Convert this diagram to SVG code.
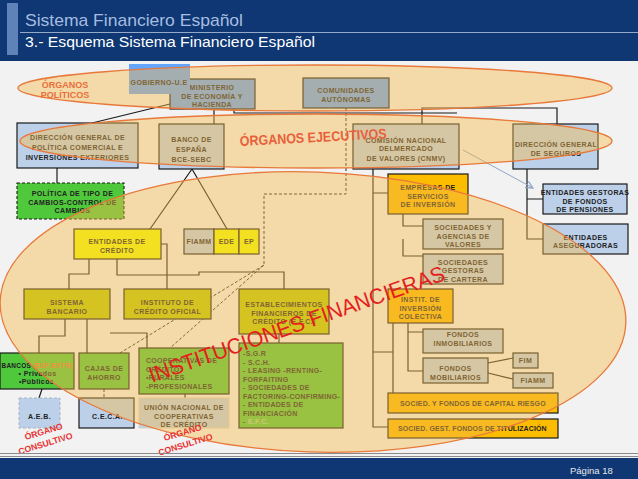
<svg xmlns="http://www.w3.org/2000/svg" width="638" height="479" viewBox="0 0 638 479">
<defs>
<style>
.t{font-family:"Liberation Sans",Arial,sans-serif;font-weight:bold;font-size:7px;fill:#222;text-anchor:middle;letter-spacing:0.4px}
.tl{font-family:"Liberation Sans",Arial,sans-serif;font-weight:bold;font-size:7px;fill:#222;letter-spacing:0.3px}
.bx{stroke:#1a1a1a;stroke-width:1.2}
.blue{fill:#bcd0ea}
.gblue{fill:#64a6ff}
.yel{fill:#f0ff00}
.oli{fill:#bccc00}
.grn{fill:#50c83c}
.gold{fill:#fcbc00}
.ln{stroke:#1a1a1a;stroke-width:1.2;fill:none}
.dash{stroke:#2a2a2a;stroke-width:1;fill:none;stroke-dasharray:3 2}
.ov{fill:#f5b94b;fill-opacity:0.44;stroke:#e8793a;stroke-width:1.3}
.lab{font-family:"Liberation Sans",Arial,sans-serif;font-weight:bold}
</style>
<marker id="arr" viewBox="0 0 10 10" refX="9" refY="5" markerWidth="9" markerHeight="9" orient="auto" markerUnits="userSpaceOnUse">
<path d="M1,1 L9,5 L1,9" fill="none" stroke="#8ea6c6" stroke-width="1.4"/>
</marker>
</defs>

<!-- background -->
<rect x="0" y="0" width="638" height="479" fill="#f2f2f2"/>

<!-- header -->
<g id="header">
<rect x="0" y="0" width="638" height="61" fill="#0e3774"/>
<rect x="7" y="3" width="11" height="52" fill="#5f82b8"/>
<line x1="20" y1="32.5" x2="638" y2="32.5" stroke="#b8c8e0" stroke-width="0.8"/>
<text x="25" y="26" font-family="Liberation Sans, Arial, sans-serif" font-size="17" fill="#a6bde0" textLength="218" lengthAdjust="spacingAndGlyphs">Sistema Financiero Español</text>
<text x="25" y="47" font-family="Liberation Sans, Arial, sans-serif" font-size="15.5" fill="#ffffff" textLength="290" lengthAdjust="spacingAndGlyphs">3.- Esquema Sistema Financiero Español</text>
</g>

<!-- connectors -->
<g id="connectors">
<path class="ln" d="M92,123 L170,104"/>
<path class="ln" d="M214,109 V124"/>
<path class="ln" d="M234,109 V113 H457"/>
<path class="ln" d="M422,124 V108 H557 V124"/>
<path class="ln" d="M373,169 V427 H388 M373,193 H388 M373,352 H393 M393,323 V393"/>
<path class="ln" d="M403,214 V226 H423 M403,239 V256 H423"/>
<path class="ln" d="M408,323 V371 H423 M408,332 H423"/>
<path class="ln" d="M488,363 L513,358 M488,373 L513,379"/>
<path class="ln" d="M527,169 V239 H543 M527,199 H543"/>
<path d="M463,150 L533,188" stroke="#8ea6c6" stroke-width="1" fill="none" marker-end="url(#arr)"/>
<path class="dash" d="M346,108 V194 H264 V265 L120,353 M264,265 L170,348"/>
<path class="ln" d="M150,229 L192,169 L227,229"/>
<path class="ln" d="M57,168 V183"/>
<path class="ln" d="M89,259 V274 H69 V289"/>
<path class="ln" d="M117,259 V275 H199 V272 H284 V289"/>
<path class="ln" d="M161,244 H167 V289"/>
<path class="ln" d="M65,319 V336 H39 V353"/>
<path class="ln" d="M87,319 V353"/>
<path class="ln" d="M110,333 H147 V348"/>
<path class="ln" d="M42,389 L39,398"/>
<path class="ln" d="M279,334 V343"/>
<path class="ln" d="M185,394 V398"/>
<path class="dash" d="M104,389 V405 H95"/>
</g>

<!-- nodes -->
<g id="ministerio">
<rect class="bx gblue" x="170" y="79" width="85" height="30"/>
<text class="t" x="212" y="89.5">MINISTERIO</text>
<text class="t" x="212" y="99">DE ECONOMÍA Y</text>
<text class="t" x="212" y="107">HACIENDA</text>
</g>
<g id="gobierno">
<rect class="gblue" x="129" y="64" width="61" height="30"/>
<text class="t" x="159" y="84.5" font-size="6.5">GOBIERNO-U.E</text>
</g>
<g id="comunidades">
<rect class="bx gblue" x="303" y="78" width="86" height="30"/>
<text class="t" x="346" y="92.5">COMUNIDADES</text>
<text class="t" x="346" y="101.5">AUTÓNOMAS</text>
</g>
<g id="dg-politica">
<rect class="bx blue" x="17" y="123" width="121" height="45"/>
<text class="t" x="77.5" y="139.5">DIRECCIÓN GENERAL DE</text>
<text class="t" x="77.5" y="149.5">POLÍTICA COMERCIAL E</text>
<text class="t" x="77.5" y="159.5">INVERSIONES EXTERIORES</text>
</g>
<g id="banco-espana">
<rect class="bx blue" x="159" y="124" width="65" height="45"/>
<text class="t" x="191.5" y="142" font-size="8.5" fill="#333">BANCO DE</text>
<text class="t" x="191.5" y="152" font-size="8.5" fill="#333">ESPAÑA</text>
<text class="t" x="191.5" y="162" font-size="8.5" fill="#333">BCE-SEBC</text>
</g>
<g id="cnmv">
<rect class="bx blue" x="353" y="124" width="106" height="45"/>
<text class="t" x="406" y="142.5">COMISIÓN NACIONAL</text>
<text class="t" x="406" y="150.5">DELMERCADO</text>
<text class="t" x="406" y="160.5">DE VALORES (CNMV)</text>
</g>
<g id="dg-seguros">
<rect class="bx blue" x="513" y="124" width="85" height="45"/>
<text class="t" x="556" y="146.5">DIRECCIÓN GENERAL</text>
<text class="t" x="556" y="155.5">DE SEGUROS</text>
</g>
<g id="politica-cambios">
<rect class="grn" x="17" y="183" width="107" height="36" stroke="#1a1a1a" stroke-width="1.1" stroke-dasharray="3 2"/>
<text class="t" x="72.5" y="195.5" font-size="7.3">POLÍTICA DE TIPO DE</text>
<text class="t" x="72.5" y="204.5" font-size="7.3">CAMBIOS-CONTROL DE</text>
<text class="t" x="72.5" y="212.5" font-size="7.3">CAMBIOS</text>
</g>
<g id="entidades-credito">
<rect class="bx yel" x="74" y="229" width="87" height="30"/>
<text class="t" x="117" y="243.5">ENTIDADES DE</text>
<text class="t" x="117" y="252.5">CRÉDITO</text>
</g>
<g id="fiamm-ede-ep">
<rect class="bx blue" x="184" y="229" width="30" height="25"/>
<rect class="bx yel" x="214" y="229" width="25" height="25"/>
<rect class="bx yel" x="239" y="229" width="20" height="25"/>
<text class="t" x="199" y="244" fill="#f0502a" letter-spacing="0">FIAMM</text>
<text class="t" x="226.5" y="244" fill="#a4c040" letter-spacing="0">EDE</text>
<text class="t" x="249" y="244" letter-spacing="0">EP</text>
</g>
<g id="sistema-bancario">
<rect class="bx oli" x="24" y="289" width="86" height="30"/>
<text class="t" x="67" y="304.5">SISTEMA</text>
<text class="t" x="67" y="313.5">BANCARIO</text>
</g>
<g id="ico">
<rect class="bx oli" x="124" y="289" width="87" height="30"/>
<text class="t" x="167.5" y="304.5">INSTITUTO DE</text>
<text class="t" x="167.5" y="313.5">CRÉDITO OFICIAL</text>
</g>
<g id="efc">
<rect class="bx oli" x="239" y="289" width="90" height="45"/>
<text class="t" x="284" y="306.5">ESTABLECIMIENTOS</text>
<text class="t" x="284" y="315.5">FINANCIEROS DE</text>
<text class="t" x="284" y="323.5">CRÉDITO (E.F.C.)</text>
</g>
<g id="bancos">
<rect class="bx grn" x="0" y="353" width="74" height="36"/>
<text class="tl" x="1.5" y="367.5" font-size="6.6" letter-spacing="0" textLength="71" lengthAdjust="spacingAndGlyphs">BANCOS <tspan fill="#f07030">(ESP-EXTR)</tspan></text>
<text class="t" x="37.5" y="375.5">• Privados</text>
<text class="t" x="36.5" y="383.5">•Públicos</text>
</g>
<g id="cajas">
<rect class="bx grn" x="79" y="353" width="50" height="36"/>
<text class="t" x="104" y="370.5">CAJAS DE</text>
<text class="t" x="104" y="379.5">AHORRO</text>
</g>
<g id="cooperativas">
<rect class="bx grn" x="139" y="348" width="90" height="46"/>
<text class="tl" x="146" y="362.5">COOPERATIVAS DE</text>
<text class="tl" x="146" y="371.5">CRÉDITO:</text>
<text class="tl" x="146" y="380">•RURALES</text>
<text class="tl" x="146" y="388.5">-PROFESIONALES</text>
</g>
<g id="sgr-list">
<rect class="bx grn" x="239" y="343" width="104" height="85"/>
<text class="tl" x="243" y="355.5">-S.G.R</text>
<text class="tl" x="243" y="364.5">- S.C.H.</text>
<text class="tl" x="243" y="372.5">- LEASING -RENTING-</text>
<text class="tl" x="243" y="381.5">FORFAITING</text>
<text class="tl" x="243" y="389.5">- SOCIEDADES DE</text>
<text class="tl" x="243" y="398.5">FACTORING-CONFIRMING-</text>
<text class="tl" x="243" y="406.5">- ENTIDADES DE</text>
<text class="tl" x="243" y="415.5">FINANCIACIÓN</text>
<text class="tl" x="243" y="423.5">- <tspan fill="#b4d49a">E.F.C.</tspan></text>
</g>
<g id="aeb">
<rect class="blue" x="19" y="398" width="41" height="30" stroke="#a8b4c0" stroke-width="1" stroke-dasharray="3 2"/>
<text class="t" x="39.5" y="418.5">A.E.B.</text>
</g>
<g id="ceca">
<rect class="bx blue" x="79" y="398" width="55" height="30"/>
<text class="t" x="107.5" y="418.5">C.E.C.A.</text>
</g>
<g id="union-nacional">
<rect class="blue" x="139" y="398" width="90" height="30" stroke="#d8d4b8" stroke-width="1"/>
<text class="t" x="184" y="409.5">UNIÓN NACIONAL DE</text>
<text class="t" x="184" y="418.5">COOPERATIVAS</text>
<text class="t" x="184" y="426.5">DE CRÉDITO</text>
</g>
<g id="empresas-servicios">
<rect class="bx gold" x="388" y="174" width="80" height="40"/>
<text class="t" x="428" y="189.5">EMPRESAS DE</text>
<text class="t" x="428" y="198.5">SERVICIOS</text>
<text class="t" x="428" y="206.5">DE INVERSIÓN</text>
</g>
<g id="soc-agencias">
<rect class="bx blue" x="423" y="219" width="80" height="30"/>
<text class="t" x="463" y="229.5">SOCIEDADES Y</text>
<text class="t" x="463" y="238.5">AGENCIAS DE</text>
<text class="t" x="463" y="246.5">VALORES</text>
</g>
<g id="soc-gestoras">
<rect class="bx blue" x="423" y="254" width="80" height="30"/>
<text class="t" x="463" y="264.5">SOCIEDADES</text>
<text class="t" x="463" y="272.5">GESTORAS</text>
<text class="t" x="463" y="281.5">DE CARTERA</text>
</g>
<g id="iic">
<rect class="bx gold" x="388" y="289" width="65" height="34"/>
<text class="t" x="420.5" y="301.5">INSTIT. DE</text>
<text class="t" x="420.5" y="310.5">INVERSIÓN</text>
<text class="t" x="420.5" y="318.5">COLECTIVA</text>
</g>
<g id="fondos-inmob">
<rect class="bx blue" x="423" y="329" width="80" height="24"/>
<text class="t" x="463" y="336.5">FONDOS</text>
<text class="t" x="463" y="345.5">INMOBILIARIOS</text>
</g>
<g id="fondos-mob">
<rect class="bx blue" x="423" y="358" width="65" height="25"/>
<text class="t" x="455.5" y="370.5">FONDOS</text>
<text class="t" x="455.5" y="379.5">MOBILIARIOS</text>
</g>
<g id="fim">
<rect class="bx blue" x="513" y="353" width="25" height="15"/>
<text class="t" x="525.5" y="363" letter-spacing="0">FIM</text>
</g>
<g id="fiamm2">
<rect class="bx blue" x="513" y="373" width="40" height="15"/>
<text class="t" x="533" y="383" fill="#f0502a" letter-spacing="0">FIAMM</text>
</g>
<g id="capital-riesgo">
<rect class="bx gold" x="388" y="393" width="170" height="20"/>
<text class="t" x="473" y="405.5" textLength="146" lengthAdjust="spacing">SOCIED. Y FONDOS DE  CAPITAL RIESGO</text>
</g>
<g id="titulizacion">
<rect class="bx gold" x="388" y="419" width="170" height="19"/>
<text class="t" x="472.5" y="431" textLength="149" lengthAdjust="spacing">SOCIED. GEST. FONDOS DE TITULIZACIÓN</text>
</g>
<g id="fondos-pensiones">
<rect class="bx blue" x="543" y="184" width="84" height="30"/>
<text class="t" x="585" y="194.5">ENTIDADES GESTORAS</text>
<text class="t" x="585" y="203.5">DE FONDOS</text>
<text class="t" x="585" y="211.5">DE PENSIONES</text>
</g>
<g id="aseguradoras">
<rect class="bx blue" x="543" y="224" width="85" height="30"/>
<text class="t" x="585.5" y="239.5">ENTIDADES</text>
<text class="t" x="585.5" y="247.5">ASEGURADORAS</text>
</g>

<!-- grouping ellipses (translucent overlays) -->
<g id="organos-politicos">
<ellipse class="ov" cx="315" cy="88" rx="297" ry="23"/>
<text class="lab" x="65" y="88" font-size="9" fill="#e8703a" text-anchor="middle">ÓRGANOS</text>
<text class="lab" x="65" y="98" font-size="9" fill="#e8703a" text-anchor="middle">POLÍTICOS</text>
</g>
<g id="organos-ejecutivos">
<ellipse class="ov" cx="316" cy="141" rx="296" ry="27"/>
<text class="lab" x="240" y="146" font-size="14" fill="#e8603a" textLength="147" lengthAdjust="spacingAndGlyphs" transform="rotate(-3 240 146)">ÓRGANOS EJECUTIVOS</text>
</g>
<g id="instituciones-financieras">
<ellipse class="ov" cx="313" cy="312" rx="313" ry="140" transform="rotate(2 313 312)"/>
<text x="152" y="383" font-family="Liberation Sans, Arial, sans-serif" font-size="22" fill="#e41e1e" textLength="312" lengthAdjust="spacingAndGlyphs" transform="rotate(-19.3 152 383)">INSTITUCIONES FINANCIERAS</text>
</g>
<g id="organo-consultivo-1">
<text class="lab" font-size="8.7" fill="#e83030" text-anchor="middle" transform="translate(44.4 434.4) rotate(-17)">ÓRGANO</text>
<text class="lab" font-size="8.7" fill="#e83030" text-anchor="middle" transform="translate(46.4 446.4) rotate(-17)">CONSULTIVO</text>
</g>
<g id="organo-consultivo-2">
<text class="lab" font-size="8.7" fill="#e83030" text-anchor="middle" transform="translate(183.4 435.4) rotate(-17)">ÓRGANO</text>
<text class="lab" font-size="8.7" fill="#e83030" text-anchor="middle" transform="translate(186.4 447.4) rotate(-17)">CONSULTIVO</text>
</g>

<!-- footer -->
<g id="footer">
<line x1="0" y1="453.5" x2="638" y2="453.5" stroke="#8a8a8a" stroke-width="1"/>
<line x1="0" y1="456.5" x2="638" y2="456.5" stroke="#8a8a8a" stroke-width="1"/>
<rect x="0" y="458" width="638" height="21" fill="#0e3774"/>
<text x="570" y="474" font-family="Liberation Sans, Arial, sans-serif" font-size="9.5" fill="#e8e8e8">Página 18</text>
</g>
</svg>
